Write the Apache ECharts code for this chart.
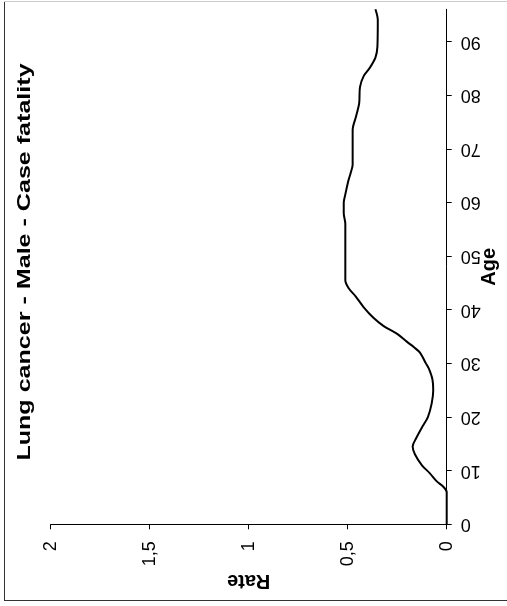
<!DOCTYPE html>
<html>
<head>
<meta charset="utf-8">
<script src="https://cdn.jsdelivr.net/npm/echarts@6/dist/echarts.min.js"></script>
<style>
html,body{margin:0;padding:0;background:#fff;}
#chart{width:507px;height:606px;}
</style>
</head>
<body>
<div id="chart"></div>
<script>
var titleText = 'Lung cancer - Male - Case fatality';
var ageName = 'Age';
var rateName = 'Rate';
var ageTicks = [0, 10, 20, 30, 40, 50, 60, 70, 80, 90];
var rateTicks = [0, 0.5, 1, 1.5, 2];
var rateTickLabels = ['0', '0,5', '1', '1,5', '2'];
var ages = [0, 6, 7, 8, 9.5, 11, 13, 14.5, 16, 18, 20, 22.5, 25, 27, 29, 30, 32, 33, 34, 35.5, 37, 38.5, 40.5, 42.5, 44, 45.5, 56, 58, 60, 61.5, 64, 65.5, 67, 73.5, 76, 78.5, 81.5, 83.5, 85, 87, 89, 94, 96];
var rates = [0, 0, 0.017, 0.05, 0.085, 0.125, 0.16, 0.172, 0.155, 0.126, 0.095, 0.076, 0.068, 0.072, 0.09, 0.105, 0.135, 0.165, 0.2, 0.25, 0.32, 0.37, 0.42, 0.46, 0.495, 0.512, 0.512, 0.52, 0.52, 0.512, 0.497, 0.485, 0.475, 0.475, 0.458, 0.442, 0.438, 0.42, 0.39, 0.36, 0.35, 0.348, 0.36];

var FONT = "'Liberation Sans', Arial, sans-serif";
var data = ages.map(function (a, i) { return [rates[i], a]; });

var chart = echarts.init(document.getElementById('chart'), null, {renderer: 'canvas'});
chart.setOption({
  animation: false,
  backgroundColor: '#ffffff',
  grid: {left: 50.7, right: 60.3, top: 9.3, bottom: 81.7, containLabel: false, outerBoundsMode: 'none'},
  xAxis: {
    type: 'value', inverse: true, position: 'bottom',
    min: rateTicks[0], max: rateTicks[rateTicks.length - 1], interval: 0.5,
    axisLine: {show: true, lineStyle: {color: '#000', width: 1}},
    axisTick: {show: true, inside: false, length: 5, lineStyle: {color: '#000', width: 1}},
    splitLine: {show: false},
    axisLabel: {
      rotate: 90, margin: 17, color: '#000', fontSize: 18, fontFamily: FONT,
      formatter: function (v) {
        var idx = rateTicks.indexOf(v);
        return idx >= 0 ? rateTickLabels[idx] : '';
      }
    },
    name: rateName, nameLocation: 'middle', nameGap: 46, nameRotate: 180, nameMoveOverlap: false,
    nameTextStyle: {color: '#000', fontSize: 20, fontWeight: 'bold', fontFamily: FONT}
  },
  yAxis: {
    type: 'value', position: 'right', min: 0, max: 96,
    axisLine: {show: true, onZero: false, lineStyle: {color: '#000', width: 1}},
    axisTick: {show: true, inside: false, length: 5, customValues: ageTicks, lineStyle: {color: '#000', width: 1}},
    splitLine: {show: false},
    axisLabel: {
      rotate: 180, margin: 14, color: '#000', fontSize: 18, fontFamily: FONT,
      customValues: ageTicks
    },
    name: ageName, nameLocation: 'middle', nameGap: 33, nameRotate: 90, nameMoveOverlap: false,
    nameTextStyle: {color: '#000', fontSize: 20, fontWeight: 'bold', fontFamily: FONT}
  },
  series: [{
    type: 'line', data: data, showSymbol: false, smooth: 0.3,
    lineStyle: {color: '#000', width: 2},
    itemStyle: {color: '#000'}
  }],
  graphic: [
    {
      type: 'text', x: 25, y: 262, rotation: Math.PI / 2, scaleX: 1.32, scaleY: 1,
      style: {text: titleText, fill: '#000', font: 'bold 19px ' + FONT, textAlign: 'center', textVerticalAlign: 'middle'}
    },
    {type: 'line', shape: {x1: 4.5, y1: 1, x2: 4.5, y2: 601}, style: {stroke: '#333', lineWidth: 1}},
    {type: 'line', shape: {x1: 4, y1: 600.5, x2: 507, y2: 600.5}, style: {stroke: '#333', lineWidth: 1}},
    {type: 'line', shape: {x1: 4, y1: 1.5, x2: 507, y2: 1.5}, style: {stroke: '#ccc', lineWidth: 1}}
  ]
});
</script>
</body>
</html>
